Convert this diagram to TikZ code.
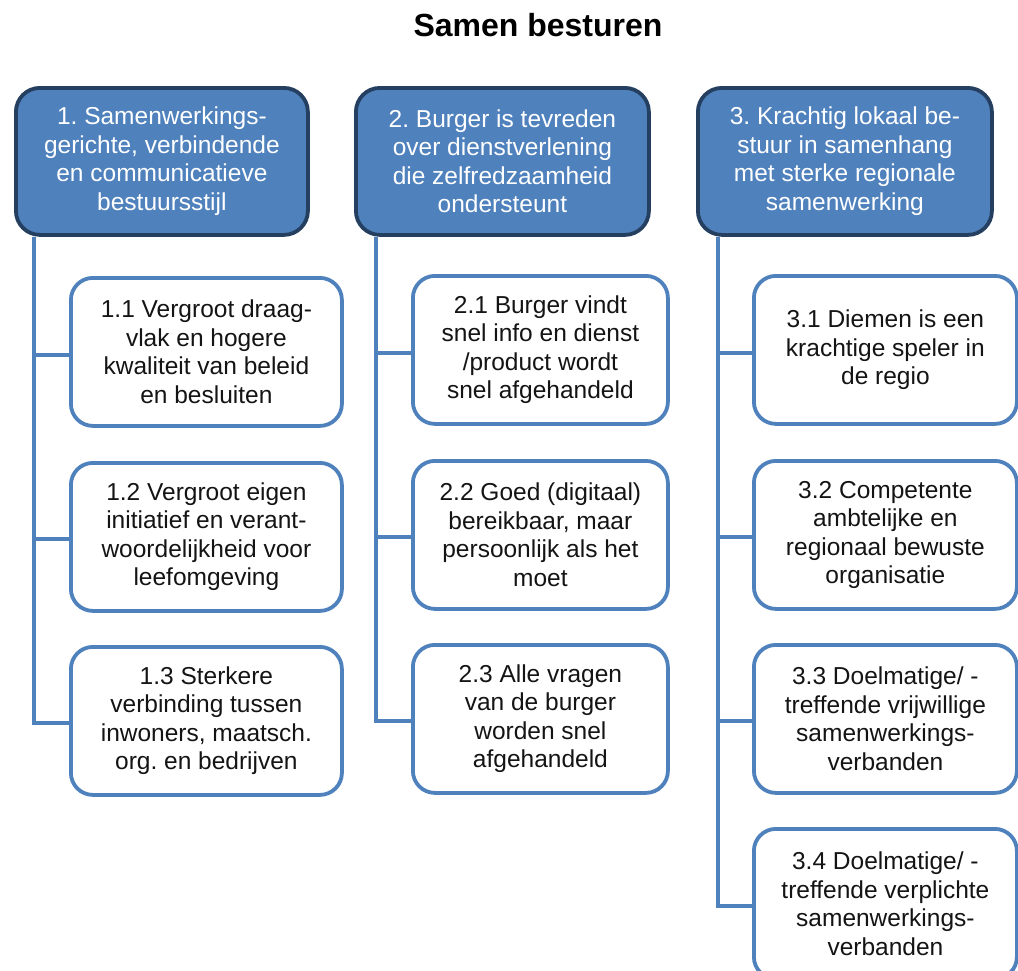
\documentclass[tikz,border=0pt]{standalone}
\usepackage{fontspec}
\setmainfont{Liberation Sans}
\frenchspacing
\definecolor{hdrfill}{HTML}{4F81BD}
\definecolor{hdrline}{HTML}{243F60}
\definecolor{boxline}{HTML}{4F81BD}
\definecolor{txt}{HTML}{141414}
\tikzset{
  hdr/.style={draw=hdrline, line width=3.8pt, fill=hdrfill, rounded corners=24pt,
    anchor=north west, align=center, text=white, inner sep=0pt,
    font=\fontsize{24.5}{28.5}\selectfont},
  sub/.style={draw=boxline, line width=3.8pt, fill=white, rounded corners=22pt,
    anchor=north west, align=center, text=txt, inner sep=0pt,
    font=\fontsize{24.5}{28.5}\selectfont},
  conn/.style={draw=boxline, line width=4.2pt}
}
\begin{document}
\begin{tikzpicture}[x=1pt,y=-1pt]
\useasboundingbox (0,0) rectangle (1018,970);
\clip (0,0) rectangle (1018,970);
\node[font=\bfseries\fontsize{32}{36}\selectfont, text=black] (title) at (538,25) {Samen besturen};

% headers
\node[hdr, minimum width=292pt, minimum height=147pt] (h1) at (14,86)
  {1. Samenwerkings-\\gerichte, verbindende\\en communicatieve\\bestuursstijl};
\node[hdr, minimum width=293pt, minimum height=147pt] (h2) at (354,86)
  {2. Burger is tevreden\\over dienstverlening\\die zelfredzaamheid\\ondersteunt};
\node[hdr, minimum width=294pt, minimum height=147pt] (h3) at (696,86)
  {3. Krachtig lokaal be-\\stuur in samenhang\\met sterke regionale\\samenwerking};

% column 1
\node[sub, minimum width=271pt, minimum height=148pt] (c11) at (69,276)
  {1.1 Vergroot draag-\\vlak en hogere\\kwaliteit van beleid\\en besluiten};
\node[sub, minimum width=271pt, minimum height=148pt] (c12) at (69,461)
  {1.2 Vergroot eigen\\initiatief en verant-\\woordelijkheid voor\\leefomgeving};
\node[sub, minimum width=271pt, minimum height=148pt] (c13) at (69,645)
  {1.3 Sterkere\\verbinding tussen\\inwoners, maatsch.\\org. en bedrijven};

% column 2
\node[sub, minimum width=255pt, minimum height=148pt] (c21) at (411,274)
  {2.1 Burger vindt\\snel info en dienst\\/product wordt\\snel afgehandeld};
\node[sub, minimum width=255pt, minimum height=148pt] (c22) at (411,459)
  {2.2 Goed (digitaal)\\bereikbaar, maar\\persoonlijk als het\\moet};
\node[sub, minimum width=255pt, minimum height=148pt] (c23) at (411,643)
  {2.3 Alle vragen\\van de burger\\worden snel\\afgehandeld};

% column 3
\node[sub, minimum width=263pt, minimum height=148pt] (c31) at (752,274)
  {3.1 Diemen is een\\krachtige speler in\\de regio};
\node[sub, minimum width=263pt, minimum height=148pt] (c32) at (752,459)
  {3.2 Competente\\ambtelijke en\\regionaal bewuste\\organisatie};
\node[sub, minimum width=263pt, minimum height=148pt] (c33) at (752,643)
  {3.3 Doelmatige/ -\\treffende vrijwillige\\samenwerkings-\\verbanden};
\node[sub, minimum width=263pt, minimum height=150pt] (c34) at (752,827)
  {3.4 Doelmatige/ -\\treffende verplichte\\samenwerkings-\\verbanden};

% connectors
\draw[conn] ([xshift=20pt]h1.south west) |- ([yshift=-3pt]c11.west);
\draw[conn] ([xshift=20pt]h1.south west) |- ([yshift=-2pt]c12.west);
\draw[conn] ([xshift=20pt]h1.south west) |- ([yshift=-2pt]c13.west);
\draw[conn] ([xshift=22pt]h2.south west) |- ([yshift=-3pt]c21.west);
\draw[conn] ([xshift=22pt]h2.south west) |- ([yshift=-2pt]c22.west);
\draw[conn] ([xshift=22pt]h2.south west) |- ([yshift=-2pt]c23.west);
\draw[conn] ([xshift=22pt]h3.south west) |- ([yshift=-3pt]c31.west);
\draw[conn] ([xshift=22pt]h3.south west) |- ([yshift=-2pt]c32.west);
\draw[conn] ([xshift=22pt]h3.south west) |- ([yshift=-2pt]c33.west);
\draw[conn] ([xshift=22pt]h3.south west) |- ([yshift=-2pt]c34.west);
\end{tikzpicture}
\end{document}
